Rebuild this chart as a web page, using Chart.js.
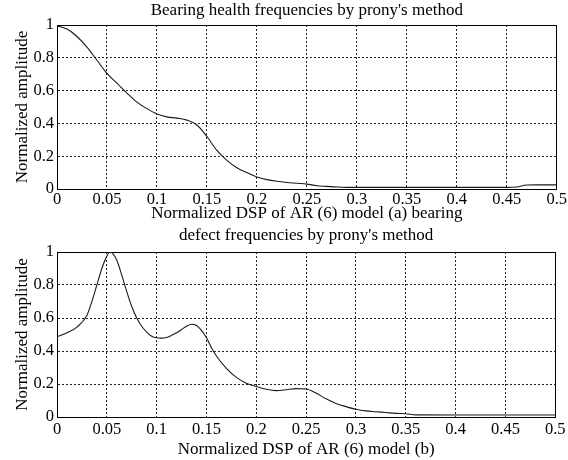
<!DOCTYPE html>
<html>
<head>
<meta charset="utf-8">
<script src="https://cdn.jsdelivr.net/npm/chart.js@4/dist/chart.umd.min.js"></script>
<style>
  html, body { margin: 0; padding: 0; background: #fff; }
  #wrap { position: relative; width: 568px; height: 460px; overflow: hidden; }
  .box { position: absolute; left: 0; width: 568px; }
</style>
</head>
<body>
<div id="wrap">
  <div class="box" style="top:0;height:224px"><canvas id="c1" width="568" height="224"></canvas></div>
  <div class="box" style="top:224px;height:236px"><canvas id="c2" width="568" height="236"></canvas></div>
</div>
<script>
// ---- data ----
const titleA = "Bearing health frequencies by prony's method";
const xTitleA = "Normalized DSP of AR (6) model (a) bearing";
const titleB = "defect frequencies by prony's method";
const xTitleB = "Normalized DSP of AR (6) model (b)";
const yTitle = "Normalized amplitude";

const xTickValues = [0, 0.05, 0.1, 0.15, 0.2, 0.25, 0.3, 0.35, 0.4, 0.45, 0.5];
const xTickLabels = ["0", "0.05", "0.1", "0.15", "0.2", "0.25", "0.3", "0.35", "0.4", "0.45", "0.5"];
const yTickValues = [0, 0.2, 0.4, 0.6, 0.8, 1];
const yTickLabels = ["0", "0.2", "0.4", "0.6", "0.8", "1"];

const freqA = [0, 0.01, 0.02, 0.03, 0.04, 0.05, 0.06, 0.07, 0.08, 0.09, 0.1, 0.11, 0.12, 0.13, 0.14, 0.15, 0.16, 0.17, 0.18, 0.19, 0.2, 0.21, 0.22, 0.23, 0.24, 0.25, 0.26, 0.27, 0.28, 0.29, 0.3, 0.35, 0.4, 0.45, 0.46, 0.47, 0.48, 0.5];
const ampA = [0.995, 0.975, 0.93, 0.865, 0.785, 0.705, 0.645, 0.585, 0.53, 0.49, 0.458, 0.44, 0.432, 0.42, 0.39, 0.32, 0.235, 0.175, 0.13, 0.1, 0.073, 0.057, 0.047, 0.04, 0.035, 0.03, 0.02, 0.016, 0.012, 0.01, 0.01, 0.01, 0.01, 0.01, 0.012, 0.024, 0.025, 0.025];

const freqB = [0, 0.01, 0.02, 0.03, 0.035, 0.04, 0.045, 0.05, 0.053, 0.056, 0.06, 0.065, 0.07, 0.075, 0.08, 0.085, 0.09, 0.095, 0.1, 0.105, 0.11, 0.115, 0.12, 0.125, 0.13, 0.135, 0.14, 0.145, 0.15, 0.155, 0.16, 0.17, 0.18, 0.19, 0.2, 0.21, 0.22, 0.23, 0.24, 0.25, 0.26, 0.27, 0.28, 0.29, 0.3, 0.31, 0.32, 0.33, 0.34, 0.35, 0.36, 0.4, 0.45, 0.5];
const ampB = [0.487, 0.51, 0.545, 0.615, 0.7, 0.8, 0.9, 0.975, 1.0, 0.99, 0.95, 0.86, 0.76, 0.67, 0.6, 0.55, 0.515, 0.49, 0.48, 0.478, 0.482, 0.495, 0.51, 0.53, 0.55, 0.562, 0.555, 0.525, 0.48, 0.42, 0.37, 0.295, 0.24, 0.205, 0.185, 0.168, 0.16, 0.165, 0.172, 0.17, 0.145, 0.11, 0.082, 0.063, 0.047, 0.037, 0.032, 0.027, 0.022, 0.02, 0.013, 0.012, 0.012, 0.012];

// ---- chart builder ----
const FONT = "'Liberation Serif', 'Times New Roman', serif";
Chart.defaults.font.family = FONT;
Chart.defaults.color = '#000';

function makeChart(id, freq, amp, title, xTitle, cfg) {
  const pts = freq.map((f, i) => ({ x: f, y: amp[i] }));
  const gridCommon = { color: '#222', lineWidth: 1, drawTicks: false };
  return new Chart(document.getElementById(id), {
    type: 'line',
    data: { datasets: [{ data: pts, borderColor: '#1a1a1a', borderWidth: 1.1, pointRadius: 0, fill: false, cubicInterpolationMode: 'monotone' }] },
    options: {
      responsive: false,
      animation: false,
      events: [],
      layout: { padding: { left: 0, right: 11, top: 0, bottom: 0 } },
      plugins: {
        legend: { display: false },
        tooltip: { enabled: false },
        title: {
          display: true, text: title, fullSize: false,
          font: { family: FONT, size: 17, weight: 'normal' }, color: '#000',
          padding: { top: cfg.titleTop, bottom: cfg.titleBottom }
        }
      },
      scales: {
        x: {
          type: 'linear', position: 'bottom', min: 0, max: 0.5,
          afterBuildTicks: s => { s.ticks = xTickValues.map(v => ({ value: v })); },
          afterFit: s => { s.height = cfg.xHeight; },
          ticks: { font: { family: FONT, size: 16.5 }, color: '#000', padding: cfg.xTickPad, maxRotation: 0, autoSkip: false,
                   callback: (v) => { const i = xTickValues.findIndex(t => Math.abs(t - v) < 1e-9); return i >= 0 ? xTickLabels[i] : ''; } },
          grid: gridCommon,
          border: { display: true, color: '#000', width: 1, dash: [2, 2] },
          title: { display: true, text: xTitle, font: { family: FONT, size: 17 }, color: '#000', padding: { top: 0, bottom: 0 } }
        },
        y: {
          type: 'linear', position: 'left', min: 0, max: 1,
          afterBuildTicks: s => { s.ticks = yTickValues.map(v => ({ value: v })); },
          afterFit: s => { s.width = 57; },
          ticks: { font: { family: FONT, size: 16.5 }, color: '#000', padding: 3,
                   callback: (v) => { const i = yTickValues.findIndex(t => Math.abs(t - v) < 1e-9); return i >= 0 ? yTickLabels[i] : ''; } },
          grid: gridCommon,
          border: { display: true, color: '#000', width: 1, dash: [2, 2] },
          title: { display: true, text: yTitle, font: { family: FONT, size: 17 }, color: '#000', padding: { top: 12, bottom: 0 } }
        },
        xTop: {
          type: 'linear', position: 'top', min: 0, max: 0.5,
          ticks: { display: false }, grid: { display: false, drawTicks: false },
          border: { display: true, color: '#000', width: 1 },
          afterFit: s => { s.height = 0; }
        },
        yRight: {
          type: 'linear', position: 'right', min: 0, max: 1,
          ticks: { display: false }, grid: { display: false, drawTicks: false },
          border: { display: true, color: '#000', width: 1 },
          afterFit: s => { s.width = 0; }
        }
      }
    }
  });
}

makeChart('c1', freqA, ampA, titleA, xTitleA, { titleTop: 0, titleBottom: 4.6, xHeight: 35, xTickPad: 1 });
makeChart('c2', freqB, ampB, titleB, xTitleB, { titleTop: 1, titleBottom: 6.6, xHeight: 43, xTickPad: 2.4 });
</script>
</body>
</html>
